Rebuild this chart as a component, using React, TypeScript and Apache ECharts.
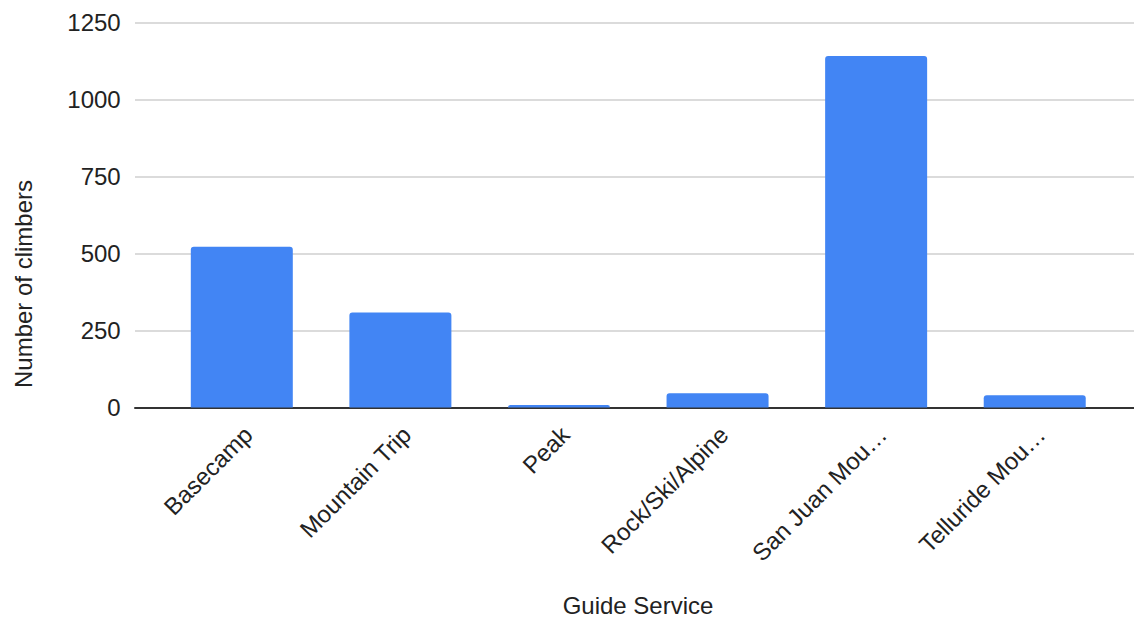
import React, { useEffect, useRef } from "react";
import * as echarts from "echarts";

const categories = ["Basecamp", "Mountain Trip", "Peak", "Rock/Ski/Alpine", "San Juan Mou…", "Telluride Mou…"];
const climbers = [522, 308, 8, 46, 1141, 40];
const yTicks = [0, 250, 500, 750, 1000, 1250];
const xTitle = "Guide Service";
const yTitle = "Number of climbers";

const FONT = "'Liberation Sans', Arial, sans-serif";
const FS = 24;

export default function App() {
  const ref = useRef<HTMLDivElement>(null);
  useEffect(() => {
    if (!ref.current) return;
    const chart = echarts.init(ref.current, undefined, { renderer: "svg" });
    const labelShift = 0.04;
    chart.setOption({
      animation: false,
      textStyle: { fontFamily: FONT },
      grid: { left: 135, right: 0, top: 22.3, bottom: 209.5, containLabel: false },
      xAxis: {
        type: "value",
        min: -0.6735,
        max: 5.626,
        axisLine: { show: true, onZero: false, lineStyle: { color: "#333333", width: 2 } },
        axisTick: { show: false },
        splitLine: { show: false },
        axisLabel: {
          customValues: categories.map((_, i) => i + labelShift),
          formatter: (v: number) => categories[Math.round(v - labelShift)] ?? "",
          rotate: 45,
          margin: 23,
          fontSize: FS,
          color: "#222222",
          fontFamily: FONT,
        },
      },
      yAxis: {
        type: "value",
        min: yTicks[0],
        max: yTicks[yTicks.length - 1],
        interval: 250,
        axisLine: { show: false },
        axisTick: { show: false },
        splitLine: { show: true, lineStyle: { color: "#cfcfcf", width: 1.5 } },
        axisLabel: {
          margin: 14.3,
          fontSize: FS,
          color: "#222222",
          fontFamily: FONT,
          formatter: (v: number) => String(v),
        },
      },
      graphic: [
        {
          type: "text",
          x: 23.7,
          y: 284,
          rotation: Math.PI / 2,
          style: {
            text: yTitle,
            fontSize: FS,
            fontFamily: FONT,
            fill: "#222222",
            textAlign: "center",
            textVerticalAlign: "middle",
          },
        },
        {
          type: "text",
          x: 638,
          y: 605,
          style: {
            text: xTitle,
            fontSize: FS,
            fontFamily: FONT,
            fill: "#222222",
            textAlign: "center",
            textVerticalAlign: "middle",
          },
        },
      ],
      series: [
        {
          type: "bar",
          data: climbers.map((v, i) => [i, v]),
          barWidth: 102,
          itemStyle: { color: "#4285F4", borderRadius: [3, 3, 0, 0] },
          z: 3,
        },
      ],
    });
    return () => chart.dispose();
  }, []);
  return (
    <div
      ref={ref}
      style={{ position: "fixed", left: 0, top: 0, width: 1134, height: 617, background: "#ffffff" }}
    />
  );
}
